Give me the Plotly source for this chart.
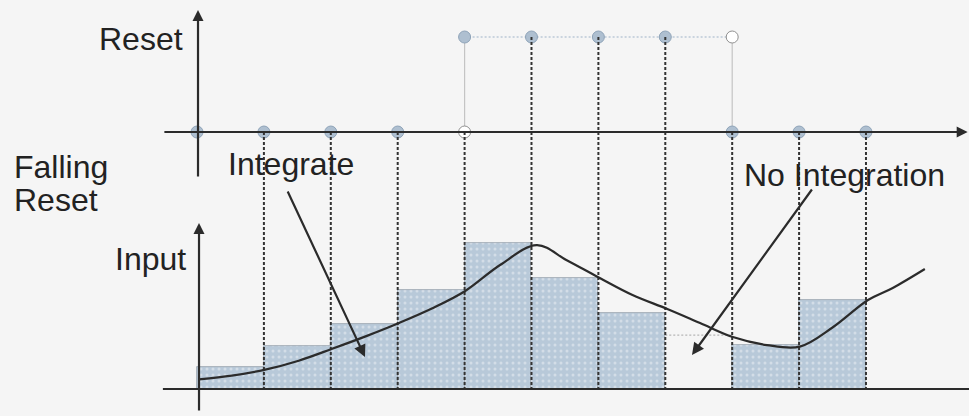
import plotly.graph_objects as go

# ---------------- data ----------------
sample_edges = [0, 1, 2, 3, 4, 5, 6, 7, 8, 9, 10]           # sample instants
bar_heights = [0.148, 0.289, 0.436, 0.664, 0.98, 0.745, 0.51, None, 0.295, 0.597]
skipped_bar_level = 0.362                                    # dashed outline of bar 7 (no integration)
reset_values = [0, 0, 0, 0, 1, 1, 1, 1, 0, 0, 0]             # reset signal at each instant
curve_x = [0.03, 0.52, 1.02, 1.52, 2.02, 2.53, 3.02, 3.51, 4.01, 4.53, 5.08, 5.52,
           6.02, 6.51, 7.03, 7.52, 8.01, 8.52, 9.01, 9.51, 10.03, 10.40, 10.88]
curve_y = [0.065, 0.09, 0.13, 0.19, 0.27, 0.355, 0.443, 0.54, 0.658, 0.832, 0.966, 0.866,
           0.745, 0.631, 0.537, 0.443, 0.349, 0.295, 0.284, 0.416, 0.597, 0.678, 0.805]

# ---------------- axes ranges ----------------
XR = [-2.945, 11.54]
YR_RESET = [-2.989, 1.3895]
YR_INPUT = [-0.1812, 2.6107]

def reset_to_input(r):
    f = (r - YR_RESET[0]) / (YR_RESET[1] - YR_RESET[0])
    return YR_INPUT[0] + f * (YR_INPUT[1] - YR_INPUT[0])

BG = "#f5f5f5"
DARK = "#2b2b2b"
FONT = "Liberation Sans, Arial, sans-serif"

fig = go.Figure()

# bars (input samples)
centers = [(sample_edges[i] + sample_edges[i + 1]) / 2 for i in range(len(bar_heights))]
fig.add_trace(go.Bar(
    x=centers, y=bar_heights, width=1, yaxis="y2",
    marker=dict(color="#b8c9d9",
                line=dict(color="#9aa4ae", width=0.8),
                pattern=dict(shape=".", fgcolor="#eef2f6", size=6, solidity=0.2, fillmode="overlay")),
    hoverinfo="skip", showlegend=False))

# dashed outline of skipped bar
fig.add_trace(go.Scatter(
    x=[sample_edges[7], sample_edges[8]], y=[skipped_bar_level] * 2, yaxis="y2",
    mode="lines", line=dict(color="#b5b5b5", width=1.2, dash="2px,2px"),
    hoverinfo="skip", showlegend=False))

# vertical dashed sampling lines
for k in range(1, len(sample_edges)):
    r_top = reset_values[k] if (reset_values[k] == reset_values[k - 1]) else 0
    x = sample_edges[k]
    fig.add_trace(go.Scatter(
        x=[x, x], y=[reset_to_input(r_top), 0], yaxis="y2",
        mode="lines", line=dict(color="#333333", width=2, dash="3px,2px"),
        hoverinfo="skip", showlegend=False))

# reset transitions (thin grey vertical)
for k in range(1, len(sample_edges)):
    if reset_values[k] != reset_values[k - 1]:
        x = sample_edges[k]
        fig.add_trace(go.Scatter(
            x=[x, x], y=[0, 1], yaxis="y", mode="lines",
            line=dict(color="#c4c4c4", width=1.2), hoverinfo="skip", showlegend=False))

# dotted high-level line of reset
hi = [sample_edges[k] for k in range(len(sample_edges)) if reset_values[k] == 1]
fig.add_trace(go.Scatter(
    x=[min(hi), max(hi) + 1], y=[1, 1], yaxis="y", mode="lines",
    line=dict(color="#9fb3c8", width=1.2, dash="2px,2px"), hoverinfo="skip", showlegend=False))

# axes (drawn through annotations / lines)
ann = []
def arrow(x0, y0, x1, y1, yref, width=2.2, head=2, size=1.0):
    ann.append(dict(x=x1, y=y1, ax=x0, ay=y0, xref="x", yref=yref, axref="x", ayref=yref,
                    showarrow=True, arrowhead=head, arrowsize=size, arrowwidth=width,
                    arrowcolor=DARK, text=""))

# top reset axes
arrow(0.015, -0.484, 0.015, 1.284, "y")
arrow(-0.51, 0, 11.52, 0, "y")
# bottom input axes
arrow(0.03, -0.154, 0.03, 1.114, "y2")
fig.add_trace(go.Scatter(x=[-0.51, XR[1]], y=[0, 0], yaxis="y2", mode="lines",
                         line=dict(color=DARK, width=2.2), hoverinfo="skip", showlegend=False))

# input curve
fig.add_trace(go.Scatter(
    x=curve_x, y=curve_y, yaxis="y2", mode="lines",
    line=dict(color=DARK, width=2.2, shape="spline", smoothing=1.0),
    hoverinfo="skip", showlegend=False))

# reset markers
filled_x, filled_y, hollow_x, hollow_y = [], [], [], []
for k, r in enumerate(reset_values):
    filled_x.append(sample_edges[k]); filled_y.append(r)
    if k > 0 and r != reset_values[k - 1]:
        hollow_x.append(sample_edges[k]); hollow_y.append(reset_values[k - 1])
fig.add_trace(go.Scatter(
    x=filled_x, y=filled_y, yaxis="y", mode="markers",
    marker=dict(size=12, color="#aebfd0", line=dict(color="#8ea3b8", width=1)),
    hoverinfo="skip", showlegend=False))
fig.add_trace(go.Scatter(
    x=hollow_x, y=hollow_y, yaxis="y", mode="markers",
    marker=dict(size=12, color="white", line=dict(color="#909090", width=1)),
    hoverinfo="skip", showlegend=False))

# pointer arrows
arrow(1.345, 1.336, 2.511, 0.215, "y2", width=2.2, head=2, size=1.1)
arrow(9.208, 1.349, 7.399, 0.228, "y2", width=2.2, head=2, size=1.1)

# labels
def label(text, x, y, yref):
    ann.append(dict(text=text, x=x, y=y, xref="x", yref=yref, xanchor="left", yanchor="middle",
                    showarrow=False, font=dict(family=FONT, size=32, color="#222222")))

label("Reset", -1.495, 0.98, "y")
label("Falling", -2.765, -0.37, "y")
label("Reset", -2.765, -0.72, "y")
label("Input", -1.256, 0.875, "y2")
label("Integrate", 0.43, -0.34, "y")
label("No Integration", 8.14, -0.45, "y")

fig.update_layout(
    width=969, height=416, margin=dict(l=0, r=0, t=0, b=0),
    paper_bgcolor=BG, plot_bgcolor=BG, bargap=0,
    xaxis=dict(range=XR, visible=False, fixedrange=True),
    yaxis=dict(range=YR_RESET, visible=False, domain=[0, 1]),
    yaxis2=dict(range=YR_INPUT, visible=False, overlaying="y"),
    annotations=ann, showlegend=False)

fig.write_html("out.html", config={"displayModeBar": False},
               post_script="document.body.style.margin='0';")
